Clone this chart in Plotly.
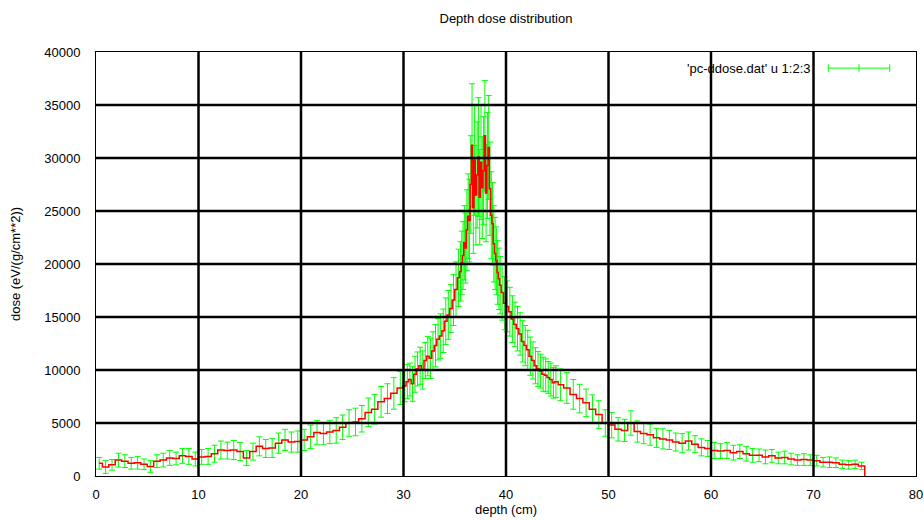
import plotly.graph_objects as go

# mesh segments: (start cm, bin width cm) -- one dose/error list per segment
seg_start = [0.0, 30.0, 35.5, 39.5, 45.0]
seg_width = [0.625, 0.25, 0.125, 0.25, 0.625]

dose_a = [1200, 850, 1050, 1500, 1400, 1200, 1250, 1100, 900, 1400, 1500, 1700,
          1650, 1900, 1850, 1600, 1800, 1850, 2100, 2450, 2400, 2450, 2300, 1700,
          2300, 2800, 2600, 2650, 3100, 3400, 3200, 3250, 3400, 3700, 4100, 4000,
          4150, 4300, 4600, 5000, 5100, 5400, 6000, 6300, 7000, 7300, 7800, 8300]
err_a = [550, 600, 500, 650, 600, 550, 600, 500, 550, 600, 650, 700,
         600, 700, 750, 650, 700, 750, 800, 850, 800, 900, 850, 700,
         800, 900, 850, 900, 950, 1000, 950, 1000, 1000, 1100, 1150, 1050,
         1100, 1200, 1150, 1250, 1300, 1250, 1350, 1400, 1450, 1400, 1500, 1550]

dose_b = [8500, 8900, 9100, 8700, 9600, 10100, 10400, 10000, 10900, 11300, 11100,
          11800, 12300, 12900, 13200, 13700, 14600, 15200, 15800, 16600, 17600, 18700]
err_b = [1500, 1600, 1550, 1650, 1700, 1600, 1750, 1800, 1700, 1850, 1900,
         1800, 2000, 1950, 2100, 2050, 2200, 2300, 2250, 2400, 2600, 2700]

dose_c = [19300, 20100, 20800, 22000, 21500, 23200, 24500, 24100, 27500, 31200, 25300,
          29800, 26500, 28400, 30100, 26300, 29600, 27200, 28800, 32100, 26700, 29300,
          31000, 27100, 24600, 23800, 21900, 21000, 20300, 19200, 18600, 18000]
err_c = [2800, 3000, 3200, 3500, 3300, 3800, 4000, 3900, 4600, 5800, 4300,
         5200, 4700, 5000, 5600, 4500, 5400, 4800, 5100, 5200, 4600, 5000,
         4900, 4400, 4100, 3900, 3600, 3400, 3200, 3000, 2900, 2700]

dose_d = [17300, 16300, 16000, 15500, 14800, 14300, 13900, 13400, 12700, 12300, 11900,
          11300, 10900, 10400, 10100, 9900, 9600, 9500, 9300, 9100, 8800, 8900]
err_d = [2600, 2500, 2400, 2300, 2200, 2100, 2100, 2000, 1950, 1900, 1850,
         1800, 1750, 1700, 1650, 1600, 1600, 1550, 1500, 1550, 1450, 1500]

dose_e = [8600, 8300, 7700, 7300, 6900, 6300, 5800, 5000, 4800, 4400, 4300, 5000,
          4200, 4000, 3900, 3600, 3500, 3400, 3200, 3100, 3300, 3000, 2700, 2600,
          2400, 2350, 2400, 2200, 2300, 2100, 1950, 1950, 1800, 1900, 1700, 1750,
          1600, 1500, 1550, 1500, 1450, 1300, 1300, 1250, 1100, 1050, 1100, 950]
err_e = [1500, 1450, 1400, 1350, 1300, 1350, 1300, 1250, 1200, 1100, 1050, 1150,
         1000, 950, 1000, 900, 950, 900, 850, 900, 850, 800, 800, 750,
         750, 700, 750, 700, 650, 700, 650, 600, 650, 600, 550, 600,
         550, 500, 550, 500, 500, 450, 500, 450, 400, 400, 400, 350]

x_ticks = [0, 10, 20, 30, 40, 50, 60, 70, 80]
y_ticks = [0, 5000, 10000, 15000, 20000, 25000, 30000, 35000, 40000]

dose_segs = [dose_a, dose_b, dose_c, dose_d, dose_e]
err_segs = [err_a, err_b, err_c, err_d, err_e]

depth, dose, err = [], [], []
for s, w, d, e in zip(seg_start, seg_width, dose_segs, err_segs):
    depth += [s + w * (k + 0.5) for k in range(len(d))]
    dose += d
    err += e

# closing step of the histogram at the last bin edge
step_x = depth + [75.0, 75.0]
step_y = dose + [dose[-1], 0]

FONT = "Liberation Sans, Arial, sans-serif"

fig = go.Figure()

fig.add_trace(go.Scatter(
    x=depth, y=dose, mode="markers",
    marker=dict(size=1, color="#00ff00"),
    error_y=dict(type="data", array=err, color="#00ff00", thickness=1, width=3),
    name="'pc-ddose.dat' u 1:2:3", showlegend=False, hoverinfo="skip"))

fig.add_trace(go.Scatter(
    x=step_x, y=step_y, mode="lines",
    line=dict(color="#ff0000", width=1.5, shape="hvh"),
    showlegend=False, hoverinfo="skip"))

# grid drawn in front of the data, like gnuplot "set grid front"
for v in x_ticks[1:-1]:
    fig.add_shape(type="line", xref="x", yref="paper", x0=v, x1=v, y0=0, y1=1,
                  line=dict(color="black", width=2.5), layer="above")
for v in y_ticks[1:-1]:
    fig.add_shape(type="line", xref="paper", yref="y", x0=0, x1=1, y0=v, y1=v,
                  line=dict(color="black", width=2.5), layer="above")

# legend key (text left of the sample, gnuplot style)
fig.add_annotation(xref="paper", yref="paper", x=0.874, y=0.962,
                   text="'pc-ddose.dat' u 1:2:3", showarrow=False,
                   xanchor="right", yanchor="middle",
                   font=dict(family=FONT, size=13, color="black"))
fig.add_shape(type="line", xref="paper", yref="paper", x0=0.893, x1=0.968,
              y0=0.962, y1=0.962, line=dict(color="#00ff00", width=1))
for px in [0.893, 0.9305, 0.968]:
    fig.add_shape(type="line", xref="paper", yref="paper", x0=px, x1=px,
                  y0=0.953, y1=0.971, line=dict(color="#00ff00", width=1))

fig.update_layout(
    width=924, height=520,
    margin=dict(l=96, r=8, t=52, b=44),
    paper_bgcolor="white", plot_bgcolor="white",
    font=dict(family=FONT, size=13, color="black"),
    title=dict(text="Depth dose distribution", x=0.5, xref="paper",
               y=1 - 18 / 520, yanchor="middle", font=dict(size=13)),
    showlegend=False,
)

fig.update_xaxes(
    range=[0, 80], tickvals=x_ticks, showgrid=False, zeroline=False,
    showline=True, linecolor="black", linewidth=1, mirror=True,
    ticks="inside", ticklen=5, tickcolor="black", ticklabelstandoff=6,
    ticklabeloverflow="allow", automargin=False,
    title=dict(text="depth (cm)", standoff=2, font=dict(size=13)),
)
fig.update_yaxes(
    range=[0, 40000], tickvals=y_ticks, tickformat="d", showgrid=False,
    zeroline=False, showline=True, linecolor="black", linewidth=1, mirror=True,
    ticks="inside", ticklen=5, tickcolor="black", ticklabelstandoff=12,
    automargin=False,
    title=dict(text="dose (eV/(g/cm**2))", standoff=20, font=dict(size=13)),
)

# drop the default page margin so the 924x520 figure fills the window
fig.write_html("out.html", config={"displayModeBar": False},
               post_script="document.body.style.margin='0';document.body.style.overflow='hidden';")
